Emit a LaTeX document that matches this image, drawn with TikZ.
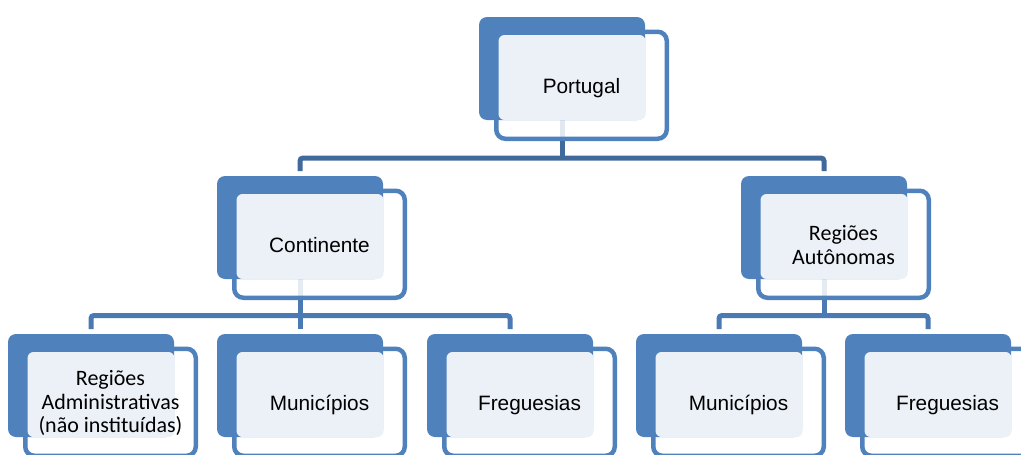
\documentclass[tikz,border=0pt]{standalone}
\usepackage{fontspec}
\setmainfont{Liberation Sans}
\newfontfamily\calibfont{Carlito}
\usetikzlibrary{calc}
\definecolor{accent}{HTML}{4F81BD}
\definecolor{lightfill}{HTML}{ECF1F8}
\definecolor{conntop}{HTML}{40699C}
\definecolor{connlow}{HTML}{4A79B3}
\pgfdeclarelayer{bg}
\pgfsetlayers{bg,main}
\tikzset{
  backbox/.style={fill=accent, draw=none, rounded corners=8pt, minimum width=166pt, minimum height=103pt, inner sep=0pt, outer sep=0pt, anchor=north west},
  framebox/.style={draw=accent, fill=white, fill opacity=0.85, line width=4.5pt, rounded corners=9pt, minimum width=170.5pt, minimum height=107pt, inner sep=0pt, outer sep=0pt, anchor=north west},
  frontbox/.style={fill=lightfill, draw=none, rounded corners=6pt, minimum width=147pt, minimum height=85pt, inner sep=0pt, outer sep=0pt, anchor=north west},
  arialtext/.style={font=\fontsize{20.8}{24}\selectfont, text=black, align=center, inner sep=0pt, text height=15pt, text depth=0pt},
  calibtext/.style={font=\calibfont\fontsize{22}{23.5}\selectfont, text=black, align=center, inner sep=0pt},
  conn1/.style={draw=conntop, line width=5pt, rounded corners=3pt},
  conn2/.style={draw=connlow, line width=5pt, rounded corners=3pt},
}
\newcommand{\orgunit}[5]{%
  \node[framebox] (#1-f) at ({#2+17.25},{#3+14.75}) {};
  \node[backbox] (#1) at (#2,#3) {};
  \node[frontbox] (#1-l) at ({#2+19.5},{#3+18}) {};
  \node[#5] (#1-t) at ({#2+102.5},{#3+69}) {#4};
}
\begin{document}
\begin{tikzpicture}[x=1pt,y=-1pt]
\useasboundingbox (0,0) rectangle (1021,455);

\orgunit{p}{479}{17}{Portugal}{arialtext}
\orgunit{c}{217}{176}{Continente}{arialtext}
\orgunit{r}{741}{176}{Regiões\\Autônomas}{calibtext}
\orgunit{a1}{8}{334}{Regiões\\Administrativas\\(não instituídas)}{calibtext}
\orgunit{a2}{217}{334}{Municípios}{arialtext}
\orgunit{a3}{427}{334}{Freguesias}{arialtext}
\orgunit{b1}{636}{334}{Municípios}{arialtext}
\orgunit{b2}{845}{334}{Freguesias}{arialtext}

\coordinate (bus0) at ($(p.south)+(0,38)$);
\coordinate (bus1) at ($(c.south)+(0,36.5)$);
\coordinate (bus2) at ($(r.south)+(0,36.5)$);

\begin{pgfonlayer}{bg}
  \fill[white] (0,0) rectangle (1021,455);
  \draw[conn1] (p.south) -- (bus0);
  \draw[conn1, shorten <=5pt, shorten >=5pt] (c.north) |- (bus0) -| (r.north);
  \draw[conn2] (c.south) -- (bus1);
  \draw[conn2, shorten <=5pt, shorten >=5pt] (a1.north) |- (bus1) -| (a3.north);
  \draw[conn2, shorten >=5pt] (bus1) -- (a2.north);
  \draw[conn2] (r.south) -- (bus2);
  \draw[conn2, shorten <=5pt, shorten >=5pt] (b1.north) |- (bus2) -| (b2.north);
\end{pgfonlayer}
\end{tikzpicture}
\end{document}
